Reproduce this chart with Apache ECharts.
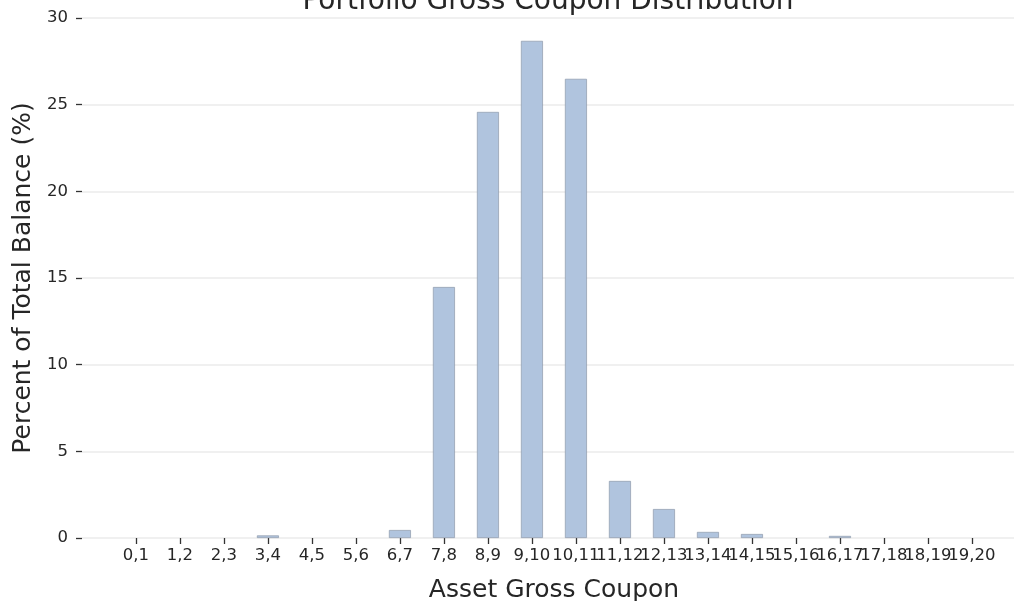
<!DOCTYPE html>
<html>
<head>
<meta charset="utf-8">
<script src="https://cdn.jsdelivr.net/npm/echarts@6/dist/echarts.min.js"></script>
<style>
  html, body { margin: 0; padding: 0; background: #fff; }
  #chart { width: 1014px; height: 601px; }
</style>
</head>
<body>
<div id="chart"></div>
<script>
// coupon buckets and share of balance
const categories = ['0,1', '1,2', '2,3', '3,4', '4,5', '5,6', '6,7', '7,8', '8,9', '9,10',
  '10,11', '11,12', '12,13', '13,14', '14,15', '15,16', '16,17', '17,18', '18,19', '19,20'];
const balancePct = [0, 0, 0, 0.15, 0, 0, 0.46, 14.48, 24.58, 28.68,
  26.49, 3.29, 1.67, 0.35, 0.23, 0, 0.12, 0, 0, 0];
const yTicks = [0, 5, 10, 15, 20, 25, 30];

const font = 'DejaVu Sans';
// labels overlap like the original, so split them over two axes
// (echarts otherwise drops the crowded ones near the end)
const evenIdx = categories.map((c, i) => i).filter(i => i % 2 === 0);
const oddIdx = categories.map((c, i) => i).filter(i => i % 2 === 1);

function bucketAxis(vals, withName) {
  const ax = {
    type: 'value',
    position: 'bottom',
    offset: 0,
    min: -1.225,
    max: 19.955,
    axisLine: { show: false, onZero: false },
    splitLine: { show: false },
    axisTick: { show: true, length: 6, customValues: vals, lineStyle: { color: '#333', width: 1.3 } },
    axisLabel: {
      customValues: vals,
      formatter: v => categories[v],
      hideOverlap: false,
      showMinLabel: true,
      showMaxLabel: true,
      fontFamily: font, fontSize: 16.5, color: '#262626', margin: 9
    }
  };
  if (withName) {
    ax.name = 'Asset Gross Coupon';
    ax.nameLocation = 'middle';
    ax.nameGap = 40;
    ax.nameTextStyle = { fontFamily: font, fontSize: 25, color: '#262626', padding: [0, 0, 0, 12] };
  }
  return ax;
}

const chart = echarts.init(document.getElementById('chart'));
chart.setOption({
  animation: false,
  backgroundColor: '#ffffff',
  textStyle: { fontFamily: font },
  title: {
    text: 'Portfolio Gross Coupon Distribution',
    left: 543,
    textAlign: 'center',
    top: -17,
    textStyle: { fontFamily: font, fontSize: 28, fontWeight: 'normal', color: '#262626' }
  },
  grid: { left: 82, right: 0, top: 18, bottom: 63, outerBoundsMode: 'none', containLabel: false },
  xAxis: [bucketAxis(evenIdx, true), bucketAxis(oddIdx, false)],
  yAxis: {
    type: 'value',
    min: yTicks[0],
    max: yTicks[yTicks.length - 1],
    interval: 5,
    name: 'Percent of Total Balance (%)',
    nameLocation: 'middle',
    nameGap: 45,
    nameTextStyle: { fontFamily: font, fontSize: 25, color: '#262626' },
    axisLine: { show: false, onZero: false },
    axisTick: { show: true, length: 6, lineStyle: { color: '#333', width: 1.3 } },
    axisLabel: { fontFamily: font, fontSize: 16.5, color: '#262626', margin: 14 },
    splitLine: { show: true, lineStyle: { color: '#f0f0f0', width: 2 } }
  },
  series: [{
    type: 'bar',
    xAxisIndex: 0,
    barWidth: 22,
    data: balancePct.map((v, i) => [i, v === 0 ? '-' : v]),
    itemStyle: { color: '#b0c4de', borderColor: '#8e9aab', borderWidth: 0.7 }
  }]
});
</script>
</body>
</html>
